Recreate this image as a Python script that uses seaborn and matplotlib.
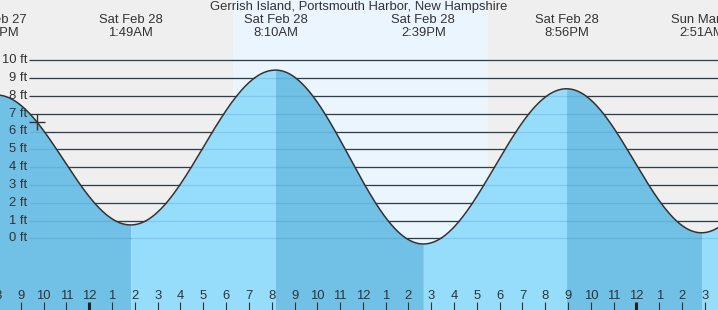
import numpy as np
import pandas as pd
import matplotlib
matplotlib.use("Agg")
import matplotlib.pyplot as plt
import matplotlib.transforms as mtransforms
import seaborn as sns

# ---- data (hours relative to Sat Feb 28 00:00, heights in ft) ----
extreme_times = [-4.07, 1.817, 8.167, 14.65, 20.933, 26.85, 33.2]
extreme_heights = [8.05, 0.75, 9.45, -0.32, 8.40, 0.31, 9.3]
extreme_dates = ["Fri Feb 27", "Sat Feb 28", "Sat Feb 28", "Sat Feb 28", "Sat Feb 28", "Sun Mar 1", ""]
extreme_clock = ["7:56PM", "1:49AM", "8:10AM", "2:39PM", "8:56PM", "2:51AM", ""]
daylight_start = 6.30
daylight_end = 17.49
level_values = list(range(0, 11))
level_labels = [f"{v} ft" for v in level_values]
hour_ticks = list(range(-4, 28))
hour_labels = [str((h % 12) or 12) for h in hour_ticks]
now_time = -2.294
title = "Gerrish Island, Portsmouth Harbor, New Hampshire"

# ---- style ----
sns.set_style("white")
plt.rcParams["font.family"] = ["Liberation Sans", "DejaVu Sans"]
TXT = "#333333"
FS = 9.36
BG = "#efefef"
DAY = "#ebf5fe"
LIGHT = "#96dcfb"
DARK = "#71c0e5"

W, H = 718, 310
fig = plt.figure(figsize=(W / 100, H / 100), dpi=100)
fig.patch.set_facecolor(BG)
ax = fig.add_axes([0, 0, 1, 1])
ax.set_facecolor(BG)
ax.set_axis_off()

px_per_hr = 22.8
mid_px = 89.3
px_per_ft = 17.8
zero_px = 238.3
ax.set_xlim(-mid_px / px_per_hr, (W - mid_px) / px_per_hr)
ax.set_ylim((zero_px - H) / px_per_ft, zero_px / px_per_ft)
ymin = (zero_px - H) / px_per_ft

# daylight band
ax.axvspan(daylight_start, daylight_end, color=DAY, zorder=0, lw=0)

# tide curve (cosine shape between successive extremes)
ts, hs, segs = [], [], []
for i in range(len(extreme_times) - 1):
    t0, t1 = extreme_times[i], extreme_times[i + 1]
    h0, h1 = extreme_heights[i], extreme_heights[i + 1]
    t = np.linspace(t0, t1, 120)
    h = (h0 + h1) / 2 + (h0 - h1) / 2 * np.cos(np.pi * (t - t0) / (t1 - t0))
    segs.append((t, h, h0 > h1))
    ts.append(t)
    hs.append(h)
curve = pd.DataFrame({"time": np.concatenate(ts), "height": np.concatenate(hs)})

# level lines (dark, beneath the fill)
x_line0 = (29.5 - mid_px) / px_per_hr
x_end = (W - mid_px) / px_per_hr + 1
for v in level_values:
    ax.plot([x_line0, x_end], [v, v], color="#333333", lw=0.9, zorder=1, solid_capstyle="butt")

# fills
for t, h, falling in segs:
    ax.fill_between(t, h, ymin, color=DARK if falling else LIGHT, lw=0, zorder=2)

# faint level lines on top of fill
for v in level_values:
    ax.plot([x_line0, x_end], [v, v], color=(0.1, 0.45, 0.7, 0.18), lw=0.9, zorder=3, solid_capstyle="butt")

sns.lineplot(data=curve, x="time", y="height", ax=ax, color="#333333", lw=1.1,
             zorder=4, sort=False, legend=False)
ax.set_axis_off()

# now marker
now_h = float(np.interp(now_time, curve["time"], curve["height"]))
ax.plot([now_time], [now_h], marker="+", ms=11, mew=1.0, color="#333333", zorder=5)

# level labels
x_lab = (27 - mid_px) / px_per_hr
for v, lab in zip(level_values, level_labels):
    ax.text(x_lab, v, lab, ha="right", va="center", fontsize=FS, color=TXT, zorder=6)

# extreme labels at top
trans = mtransforms.blended_transform_factory(ax.transData, ax.transAxes)
for t, d, c in zip(extreme_times, extreme_dates, extreme_clock):
    if not d:
        continue
    ax.text(t, 1 - 20 / H, d, ha="center", va="center", fontsize=FS, color=TXT, transform=trans, zorder=6)
    ax.text(t, 1 - 32.5 / H, c, ha="center", va="center", fontsize=FS, color=TXT, transform=trans, zorder=6)

# title
fig.text(0.5, 1 - 7.3 / H, title, ha="center", va="center", fontsize=FS, color=TXT)

# hour ticks
for h, lab in zip(hour_ticks, hour_labels):
    ax.text(h, 1 - 296 / H, lab, ha="center", va="center", fontsize=FS, color=TXT, transform=trans, zorder=6)
    midnight = (h % 24 == 0)
    ax.plot([h, h], [0, 1 - 302 / H], color="#222222" if midnight else "#333333",
            lw=2.2 if midnight else 0.8, transform=trans, zorder=6, solid_capstyle="butt")

fig.savefig("out.png", dpi=100, facecolor=BG)
